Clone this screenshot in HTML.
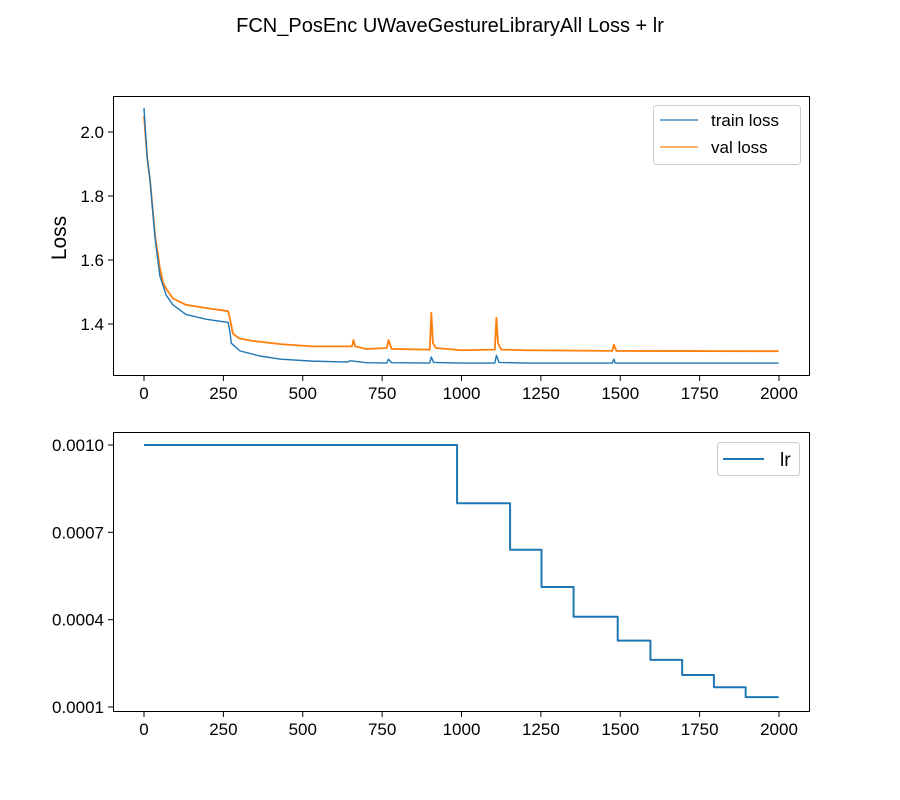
<!DOCTYPE html>
<html><head><meta charset="utf-8"><style>
body{margin:0;background:#fff;}
svg{display:block;font-family:"Liberation Sans","DejaVu Sans",sans-serif;}
</style></head><body>
<svg id="chart" width="900" height="800" xmlns="http://www.w3.org/2000/svg">
<rect width="900" height="800" fill="#fff"/>
<text x="450" y="32" text-anchor="middle" font-size="20">FCN_PosEnc UWaveGestureLibraryAll Loss + lr</text>
</svg>
<script>
const epochsTrain = [0,10,19,35,50,70,91,132,195,265,270,275,302,365,430,530,640,650,700,765,770,780,900,905,912,1000,1105,1110,1118,1200,1475,1480,1484,1999];
const trainLoss  = [2.075,1.92,1.85,1.666,1.55,1.49,1.46,1.43,1.415,1.405,1.38,1.34,1.316,1.30,1.29,1.284,1.281,1.285,1.279,1.278,1.29,1.279,1.278,1.297,1.28,1.278,1.278,1.302,1.28,1.278,1.278,1.29,1.278,1.278];
const epochsVal = [0,10,19,35,50,60,70,91,132,195,265,270,280,300,343,430,530,655,660,665,700,765,770,780,900,905,910,920,1000,1105,1110,1115,1125,1200,1475,1480,1488,1999];
const valLoss   = [2.05,1.92,1.85,1.675,1.575,1.53,1.51,1.48,1.46,1.45,1.44,1.42,1.37,1.355,1.347,1.337,1.33,1.33,1.35,1.33,1.322,1.325,1.35,1.322,1.32,1.435,1.34,1.325,1.318,1.32,1.42,1.34,1.32,1.318,1.316,1.335,1.316,1.315];
const lrEpochs = [0,986,1153,1252,1353,1492,1595,1695,1795,1895,1999];
const lrValues = [0.001,0.0008,0.00064,0.000512,0.00041,0.000328,0.000262,0.00021,0.000168,0.000134,0.000134];
const xTicks = [0,250,500,750,1000,1250,1500,1750,2000];
const lossTicks = [1.4,1.6,1.8,2.0];
const lrTicks = [0.0001,0.0004,0.0007,0.0010];

const NS="http://www.w3.org/2000/svg";
const svg=document.getElementById('chart');
function mk(tag,attrs,parent){const e=document.createElementNS(NS,tag);for(const k in attrs)e.setAttribute(k,attrs[k]);(parent||svg).appendChild(e);return e;}
const xs=v=>144+v*(635/2000);
const yLoss=v=>132+(2.0-v)*320;
const yLr=v=>445+(0.001-v)/0.0009*262;

function axes(top,bot,ticksY,yf,fmt,name){
  const g=mk('g',{});
  
  
  xTicks.forEach(t=>{
    const x=xs(t);
    mk('line',{x1:x,x2:x,y1:bot,y2:bot+5,stroke:'#000','stroke-width':1},g);
    const tx=mk('text',{x:x,y:bot+23,'text-anchor':'middle','font-size':17},g);
    tx.textContent=t;
    
    
  });
  ticksY.forEach(t=>{
    const y=yf(t);
    mk('line',{x1:108,x2:113,y1:y,y2:y,stroke:'#000','stroke-width':1},g);
    const tx=mk('text',{x:104,y:y+6,'text-anchor':'end','font-size':17},g);
    tx.textContent=fmt(t);
    
    
  });
  return g;
}
function line(ex,vals,yf,color,w,name,step){
  let d='';
  ex.forEach((e,i)=>{
    const x=xs(e),y=yf(vals[i]);
    if(i===0)d='M'+x+','+y;
    else if(step)d+=' H'+x+' V'+y;
    else d+=' L'+x+','+y;
  });
  const p=mk('path',{d:d,fill:'none',stroke:color,'stroke-width':w,'stroke-linejoin':'round'});
  
  
}
// top
axes(96,376,lossTicks,yLoss,t=>t.toFixed(1),'loss-axes');
line(epochsVal,valLoss,yLoss,'#ff7f0e',1.8,'val-loss-line',false);
line(epochsTrain,trainLoss,yLoss,'#1f77b4',1.4,'train-loss-line',false);
const f1=mk('rect',{x:113.5,y:96.5,width:696,height:279,fill:'none',stroke:'#000','stroke-width':1});


const yl=mk('text',{x:0,y:0,'font-size':21,'text-anchor':'middle',transform:'translate(66,238) rotate(-90)'});
yl.textContent='Loss';


const lg=mk('g',{});


mk('rect',{x:653.5,y:105.5,width:147,height:59,rx:3,fill:'#fff',stroke:'#ccc'},lg);
mk('line',{x1:660,x2:698,y1:120,y2:120,stroke:'#1f77b4','stroke-width':1.3},lg);
mk('line',{x1:660,x2:698,y1:147,y2:147,stroke:'#ff7f0e','stroke-width':1.3},lg);
const l1=mk('text',{x:711,y:126,'font-size':17},lg);l1.textContent='train loss';


const l2=mk('text',{x:711,y:153,'font-size':17},lg);l2.textContent='val loss';


// bottom
axes(432,712,lrTicks,yLr,t=>t.toFixed(4),'lr-axes');
line(lrEpochs,lrValues,yLr,'#1f77b4',2,'lr-line',true);
const f2=mk('rect',{x:113.5,y:432.5,width:696,height:279,fill:'none',stroke:'#000','stroke-width':1});


const lg2=mk('g',{});


mk('rect',{x:717.5,y:442.5,width:82,height:33,rx:3,fill:'#fff',stroke:'#ccc'},lg2);
mk('line',{x1:723,x2:764,y1:459,y2:459,stroke:'#1f77b4','stroke-width':2},lg2);
const l3=mk('text',{x:780,y:466,'font-size':19},lg2);l3.textContent='lr';


</script>
</body></html>
